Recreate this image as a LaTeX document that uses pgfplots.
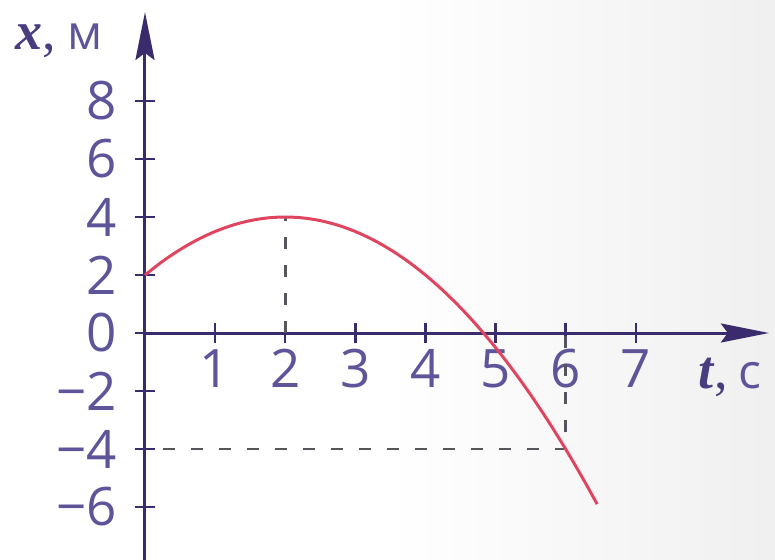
\documentclass[border=0pt]{standalone}
\usepackage{pgfplots}
\pgfplotsset{compat=1.18}
\usepackage{fontspec}
\usetikzlibrary{arrows.meta}
\newfontfamily\labelfont{Open Sans}
\newfontfamily\varfont{Liberation Serif}
\definecolor{axiscol}{HTML}{3A2C6C}
\definecolor{labcol}{HTML}{5E5499}
\definecolor{varcol}{HTML}{4A3C80}
\definecolor{curvecol}{HTML}{E04560}
\definecolor{dashcol}{HTML}{55555C}
\begin{document}
\begin{tikzpicture}
% canvas: origin of the axes sits at (0,0)
\shade[left color=white, right color=white!94!black, middle color=white]
  (-145bp,-227bp) rectangle (630bp,333bp);
\useasboundingbox (-145bp,-227bp) rectangle (630bp,333bp);
\begin{axis}[
  anchor=origin, at={(0,0)},
  x=70.1bp, y=29bp,
  xmin=0, xmax=8.9, ymin=-7.83, ymax=11.07,
  axis lines=middle,
  axis line style={axiscol, line width=3bp,
    -{Stealth[length=48bp, width=19bp, inset=7bp]}},
  hide obscured x ticks=false, hide obscured y ticks=false,
  xtick={1,2,...,7},
  xticklabels={1,2,3,4,5,6,7},
  ytick={-6,-4,-2,0,2,4,6,8},
  yticklabels={−6,−4,−2,0,2,4,6,8},
  tick align=center, major tick length=20bp,
  tick style={axiscol, line width=2.4bp},
  xticklabel style={font=\labelfont\fontsize{53bp}{53bp}\selectfont,
    text=labcol, anchor=north, inner sep=0pt, yshift=-6bp},
  yticklabel style={font=\labelfont\fontsize{53bp}{53bp}\selectfont,
    text=labcol, anchor=east, inner sep=0pt, xshift=-18bp},
  clip=false,
]
% guide lines to the vertex and to the point at t = 6 s
\addplot [dashcol, line width=2.8bp, dash pattern=on 12bp off 16bp]
  coordinates {(2,0) (2,4)};
\addplot [dashcol, line width=2.8bp, dash pattern=on 12bp off 16bp]
  coordinates {(0.25,-4) (6,-4) (6,0)};
% x(t) = 2 + 2t - t^2/2
\addplot [curvecol, line width=3bp, smooth] coordinates {
  (0,2) (0.25,2.46875) (0.5,2.875) (0.75,3.21875) (1,3.5)
  (1.25,3.71875) (1.5,3.875) (1.75,3.96875) (2,4)
  (2.25,3.96875) (2.5,3.875) (2.75,3.71875) (3,3.5)
  (3.25,3.21875) (3.5,2.875) (3.75,2.46875) (4,2)
  (4.25,1.46875) (4.5,0.875) (4.75,0.21875) (5,-0.5)
  (5.25,-1.28125) (5.5,-2.125) (5.75,-3.03125) (6,-4)
  (6.25,-5.03125) (6.45,-5.90125)
};
\end{axis}
% axis names
\node[anchor=base west, inner sep=0pt] at (-130bp,283bp)
  {\varfont\fontsize{54bp}{54bp}\selectfont\color{varcol}\textbf{\textit{x}},%
   \hspace{12bp}{\labelfont\fontsize{48bp}{48bp}\selectfont\color{labcol}м}};
\node[anchor=base west, inner sep=0pt] at (553bp,-55bp)
  {\varfont\fontsize{54bp}{54bp}\selectfont\color{varcol}\textbf{\textit{t}},%
   \hspace{10bp}{\labelfont\fontsize{48bp}{48bp}\selectfont\color{labcol}с}};
\end{tikzpicture}
\end{document}
